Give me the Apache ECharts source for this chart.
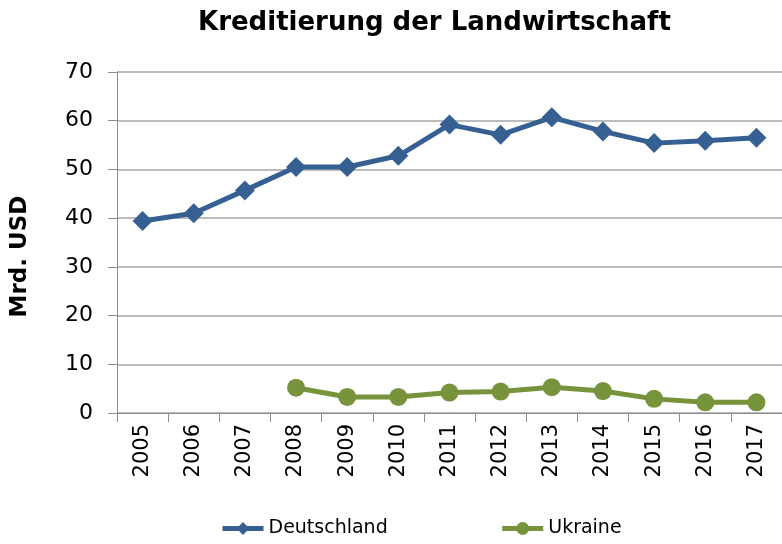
<!DOCTYPE html>
<html>
<head>
<meta charset="utf-8">
<script src="https://cdn.jsdelivr.net/npm/echarts@6/dist/echarts.min.js"></script>
<style>
  html, body { margin: 0; padding: 0; background: #fff; }
  #chart { width: 782px; height: 544px; }
</style>
</head>
<body>
<div id="chart"></div>
<script>
// --- Daten ---
const years = ['2005', '2006', '2007', '2008', '2009', '2010', '2011', '2012', '2013', '2014', '2015', '2016', '2017'];
const deutschland = [39.4, 41.0, 45.7, 50.5, 50.5, 52.8, 59.2, 57.1, 60.7, 57.8, 55.4, 55.9, 56.5];
const ukraine = [null, null, null, 5.2, 3.3, 3.3, 4.2, 4.4, 5.3, 4.5, 2.9, 2.2, 2.2];
const yTicks = [0, 10, 20, 30, 40, 50, 60, 70];

const chart = echarts.init(document.getElementById('chart'));
const font = 'DejaVu Sans';

chart.setOption({
    backgroundColor: '#fff',
    animation: false,
    title: {
        text: 'Kreditierung der Landwirtschaft',
        left: 193,
        top: 5,
        textStyle: { fontFamily: font, fontSize: 26, fontWeight: 'bold', color: '#000' }
    },
    legend: {
        left: 215,
        top: 514,
        itemWidth: 41,
        itemHeight: 16,
        itemGap: 112,
        lineStyle: { width: 5 },
        textStyle: { fontFamily: font, fontSize: 19, color: '#000' },
        data: ['Deutschland', 'Ukraine']
    },
    grid: { left: 117, right: -3, top: 72, bottom: 131 },
    xAxis: {
        type: 'category',
        data: years,
        boundaryGap: true,
        axisLine: { lineStyle: { color: '#8c8c8c', width: 1 } },
        axisTick: { show: true, length: 9, lineStyle: { color: '#8c8c8c' } },
        axisLabel: { rotate: 90, margin: 11, fontFamily: font, fontSize: 21, color: '#000' }
    },
    yAxis: {
        type: 'value',
        min: yTicks[0],
        max: yTicks[yTicks.length - 1],
        interval: 10,
        name: 'Mrd. USD',
        nameLocation: 'middle',
        nameRotate: 90,
        nameGap: 85,
        nameTextStyle: { fontFamily: font, fontSize: 23, fontWeight: 'bold', color: '#000', padding: [0, 28, 0, 0] },
        axisLine: { show: true, lineStyle: { color: '#8c8c8c', width: 1 } },
        axisTick: { show: true, length: 9, lineStyle: { color: '#8c8c8c' } },
        axisLabel: { margin: 24, fontFamily: font, fontSize: 22, color: '#000' },
        splitLine: { lineStyle: { color: '#a6a6a6', width: 1.5 } }
    },
    series: [
        {
            name: 'Deutschland',
            type: 'line',
            data: deutschland,
            symbol: 'diamond',
            symbolSize: 20,
            color: '#376092',
            lineStyle: { width: 5 }
        },
        {
            name: 'Ukraine',
            type: 'line',
            data: ukraine,
            symbol: 'circle',
            symbolSize: 18,
            color: '#77933c',
            lineStyle: { width: 5 }
        }
    ]
});
</script>
</body>
</html>
